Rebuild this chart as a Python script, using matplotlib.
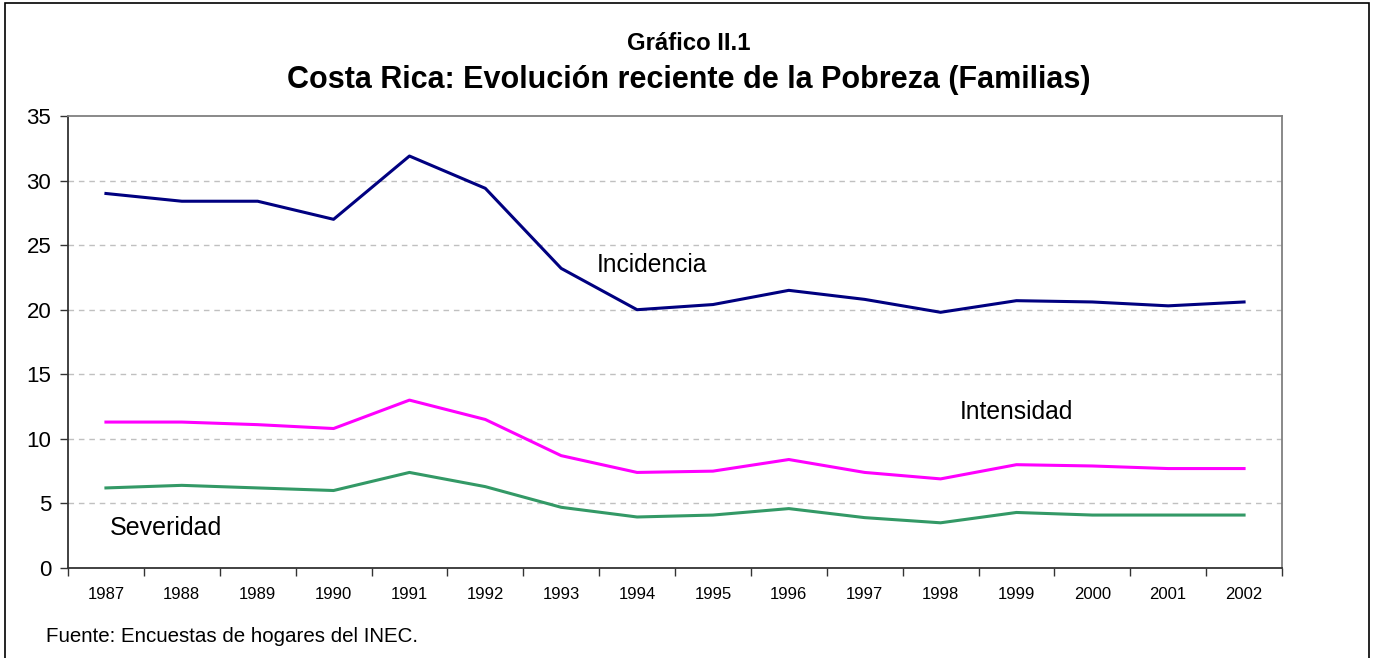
import matplotlib
matplotlib.use("Agg")
import matplotlib.pyplot as plt
from matplotlib.patches import Rectangle

plt.rcParams["font.family"] = ["Liberation Sans", "DejaVu Sans"]

# ── Data ──────────────────────────────────────────────────────────────────────
YEARS = [str(y) for y in range(1987, 2003)]
INCIDENCIA = [29.0, 28.4, 28.4, 27.0, 31.9, 29.4, 23.2, 20.0,
              20.4, 21.5, 20.8, 19.8, 20.7, 20.6, 20.3, 20.6]
INTENSIDAD = [11.3, 11.3, 11.1, 10.8, 13.0, 11.5, 8.7, 7.4,
              7.5, 8.4, 7.4, 6.9, 8.0, 7.9, 7.7, 7.7]
SEVERIDAD = [6.2, 6.4, 6.2, 6.0, 7.4, 6.3, 4.7, 3.95,
             4.1, 4.6, 3.9, 3.5, 4.3, 4.1, 4.1, 4.1]

NAVY = "#000080"
MAGENTA = "#FF00FF"
GREEN = "#339966"

fig = plt.figure(figsize=(13.74, 6.58), dpi=100)
fig.patch.set_facecolor("white")

# outer frame
fig.add_artist(Rectangle((5 / 1374, -0.02), 1364 / 1374, 1.02 - 3 / 658,
                         transform=fig.transFigure, fill=False,
                         edgecolor="black", lw=1.2))

ax = fig.add_axes([68 / 1374, 90 / 658, 1214 / 1374, 452 / 658])
x = list(range(len(YEARS)))

ax.plot(x, INCIDENCIA, color=NAVY, lw=2.2, zorder=3)
ax.plot(x, INTENSIDAD, color=MAGENTA, lw=2.2, zorder=3)
ax.plot(x, SEVERIDAD, color=GREEN, lw=2.2, zorder=3)

ax.set_xlim(-0.5, len(YEARS) - 0.5)
ax.set_ylim(0, 35)
ax.set_yticks(range(0, 36, 5))
for v in range(5, 35, 5):
    ax.axhline(v, color="#c0c0c0", lw=1.0, dashes=(4, 3.5), zorder=1)

# category axis: ticks between categories, labels at centres
ax.set_xticks(x)
ax.set_xticklabels(YEARS, fontsize=12)
ax.tick_params(axis="x", which="major", length=0, pad=14)
ax.set_xticks([i - 0.5 for i in range(len(YEARS) + 1)], minor=True)
ax.tick_params(axis="x", which="minor", length=6, width=1.0,
               color="#333333", direction="out")
ax.tick_params(axis="y", labelsize=16, length=6, width=1.0,
               color="#333333", pad=6)

for side in ("left", "bottom"):
    ax.spines[side].set_color("#333333")
    ax.spines[side].set_linewidth(1.3)
for side in ("top", "right"):
    ax.spines[side].set_color("#808080")
    ax.spines[side].set_linewidth(1.3)

# series labels
ax.text(6.47, 23.5, "Incidencia", fontsize=17.7, ha="left", va="center")
ax.text(11.25, 12.1, "Intensidad", fontsize=17.7, ha="left", va="center")
ax.text(0.05, 3.1, "Severidad", fontsize=18, ha="left", va="center")

# titles
fig.text(689 / 1374, 1 - 44 / 658, "Gráfico II.1", fontsize=17.2,
         fontweight="bold", ha="center", va="center")
fig.text(689 / 1374, 1 - 80 / 658,
         "Costa Rica: Evolución reciente de la Pobreza (Familias)",
         fontsize=22, fontweight="bold", ha="center", va="center")

fig.text(46 / 1374, 1 - 636 / 658, "Fuente: Encuestas de hogares del INEC.",
         fontsize=14.8, ha="left", va="center")

fig.savefig("out.png", dpi=100, facecolor="white")
